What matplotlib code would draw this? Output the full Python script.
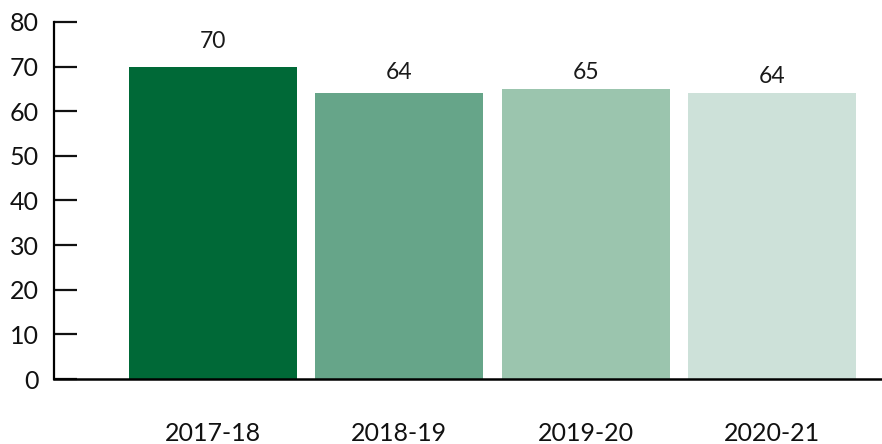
import matplotlib
matplotlib.use("Agg")
import matplotlib.pyplot as plt

categories = ["2017-18", "2018-19", "2019-20", "2020-21"]
values = [70, 64, 65, 64]
colors = ["#006937", "#66a589", "#9bc5ae", "#cde1d9"]
yticks = [0, 10, 20, 30, 40, 50, 60, 70, 80]

# label offsets above bars (points), styling only
label_offsets = [10.5, 7.7, 4.0, 4.8]

plt.rcParams['font.family'] = ['Lato', 'DejaVu Sans']

fig = plt.figure(figsize=(8.82, 4.44), dpi=100)
ax = fig.add_axes([54/882, 65/444, 1 - 54/882, (379-22)/444])

x = list(range(len(categories)))
bars = ax.bar(x, values, width=0.9, color=colors)
for xi, v, off in zip(x, values, label_offsets):
    ax.annotate(str(v), (xi, v), xytext=(0, off), textcoords="offset points",
                ha="center", va="bottom", fontsize=16.5, color="#1a1a1a")

ax.set_xlim(-0.853, 3.59)
ax.set_ylim(0, 80)
ax.set_yticks(yticks)
ax.set_xticks(x)
ax.set_xticklabels(categories)
ax.spines['top'].set_visible(False)
ax.spines['right'].set_visible(False)
ax.spines['left'].set_linewidth(1.6)
ax.spines['bottom'].set_linewidth(1.8)
ax.tick_params(axis='y', direction='in', length=16.5, width=1.6, pad=11,
               labelsize=18, colors='#111111')
ax.tick_params(axis='x', length=0, pad=31, labelsize=18, colors='#111111')

fig.savefig("out.png", dpi=100)
